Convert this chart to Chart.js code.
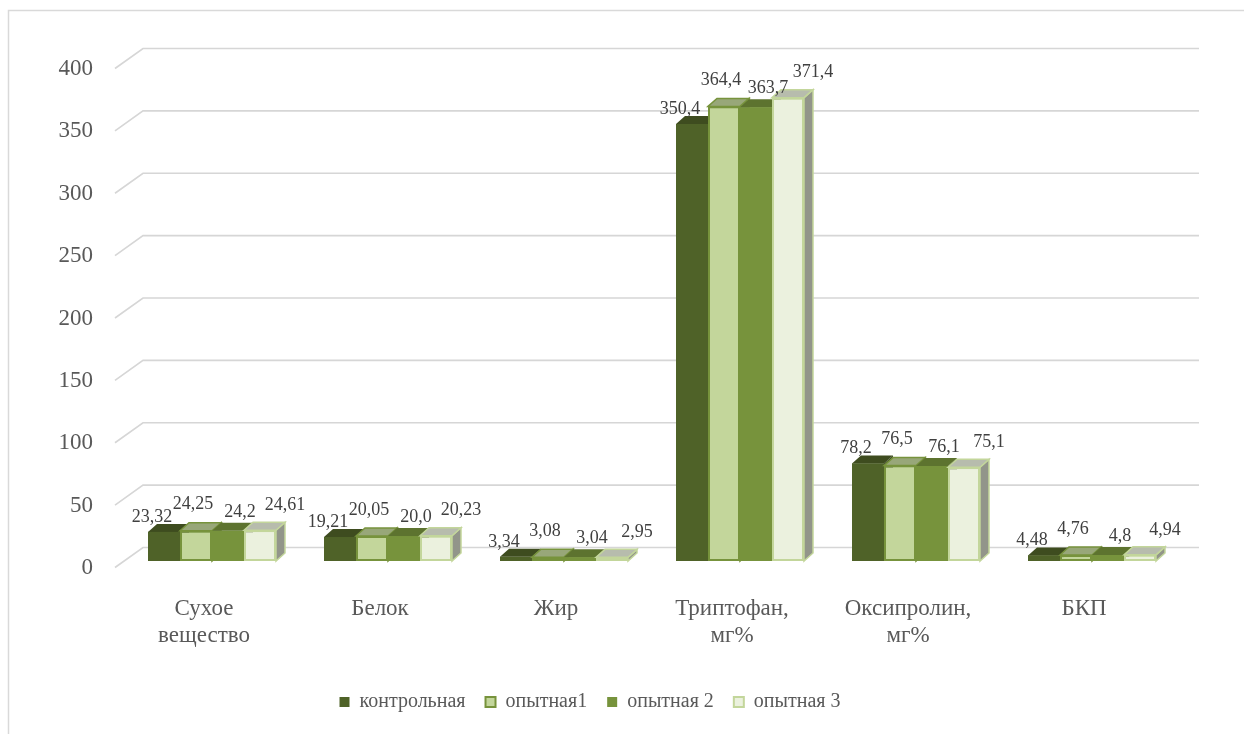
<!DOCTYPE html>
<html><head><meta charset="utf-8">
<script src="https://cdn.jsdelivr.net/npm/chart.js@4.4.1/dist/chart.umd.min.js"></script>
<style>html,body{margin:0;padding:0;background:#fff;overflow:hidden}</style>
</head><body>
<canvas id="c" width="1244" height="734"></canvas>
<script>
const categories = [['Сухое', 'вещество'], 'Белок', 'Жир', ['Триптофан,', 'мг%'], ['Оксипролин,', 'мг%'], 'БКП'];
const seriesNames = ['контрольная', 'опытная1', 'опытная 2', 'опытная 3'];
const kontrol = ['23,32', '19,21', '3,34', '350,4', '78,2', '4,48'];
const opyt1 = ['24,25', '20,05', '3,08', '364,4', '76,5', '4,76'];
const opyt2 = ['24,2', '20,0', '3,04', '363,7', '76,1', '4,8'];
const opyt3 = ['24,61', '20,23', '2,95', '371,4', '75,1', '4,94'];
const yMin = 0, yMax = 400, yStep = 50;

const seriesText = [kontrol, opyt1, opyt2, opyt3];
const toNum = s => parseFloat(s.replace(',', '.'));

const FONT = "'Liberation Serif', 'Times New Roman', serif";
const fills = ['#4F6228', '#C3D69B', '#77933C', '#EBF1DE'];
const borders = ['#4F6228', '#77933C', '#77933C', '#C3D69B'];
const borderW = [0, 2, 0, 2];
const labelOffsets = [[-12, -15], [-3, -26], [12, -19], [25, -25]];
const DEPTH = { dx: 9, dy: -8 };
const GRID = { frontDx: -9, frontDy: 6.5, backDx: 19, backDy: -13.5 };

function shade(hex, f) {
  const n = parseInt(hex.slice(1), 16);
  const r = Math.round(((n >> 16) & 255) * f), g = Math.round(((n >> 8) & 255) * f), b = Math.round((n & 255) * f);
  return `rgb(${r},${g},${b})`;
}

const plugin3d = {
  id: 'bars3d',
  beforeDraw(chart) {
    const ctx = chart.ctx;
    ctx.save();
    ctx.strokeStyle = '#d9d9d9';
    ctx.lineWidth = 1.5;
    ctx.beginPath();
    ctx.moveTo(8.5, 734); ctx.lineTo(8.5, 10.5); ctx.lineTo(1244, 10.5);
    ctx.stroke();
    ctx.restore();
  },
  beforeDatasetsDraw(chart) {
    const ctx = chart.ctx, area = chart.chartArea, ys = chart.scales.y;
    ctx.save();
    ctx.strokeStyle = '#d6d6d6';
    ctx.lineWidth = 1.6;
    ys.ticks.forEach(t => {
      const y = ys.getPixelForValue(t.value);
      ctx.beginPath();
      ctx.moveTo(area.left + GRID.frontDx, y + GRID.frontDy);
      ctx.lineTo(area.left + GRID.backDx, y + GRID.backDy);
      ctx.lineTo(area.right + GRID.backDx, y + GRID.backDy);
      ctx.stroke();
    });
    ctx.restore();
  },
  afterDatasetsDraw(chart) {
    const ctx = chart.ctx;
    // repaint bars left-to-right with 3D top and side faces (painter's order)
    chart.data.datasets.forEach((ds, i) => {
      const meta = chart.getDatasetMeta(i);
      const base = fills[i];
      meta.data.forEach(el => {
        const p = el.getProps(['x', 'y', 'base', 'width'], true);
        const l = p.x - p.width / 2, r = p.x + p.width / 2, top = p.y, bot = p.base;
        ctx.save();
        ctx.beginPath();
        ctx.moveTo(r, top); ctx.lineTo(r + DEPTH.dx, top + DEPTH.dy);
        ctx.lineTo(r + DEPTH.dx, bot + DEPTH.dy); ctx.lineTo(r, bot); ctx.closePath();
        ctx.fillStyle = shade(base, 0.62); ctx.fill();
        if (borderW[i]) { ctx.strokeStyle = borders[i]; ctx.lineWidth = 1.5; ctx.stroke(); }
        ctx.beginPath();
        ctx.moveTo(l, top); ctx.lineTo(l + DEPTH.dx, top + DEPTH.dy);
        ctx.lineTo(r + DEPTH.dx, top + DEPTH.dy); ctx.lineTo(r, top); ctx.closePath();
        ctx.fillStyle = shade(base, 0.78); ctx.fill();
        if (borderW[i]) { ctx.strokeStyle = borders[i]; ctx.lineWidth = 1.5; ctx.stroke(); }
        ctx.restore();
        el.draw(ctx);
      });
    });
    ctx.save();
    ctx.font = `18px ${FONT}`;
    ctx.fillStyle = '#404040';
    ctx.textAlign = 'center';
    ctx.textBaseline = 'middle';
    chart.data.datasets.forEach((ds, i) => {
      const meta = chart.getDatasetMeta(i);
      meta.data.forEach((el, j) => {
        const p = el.getProps(['x', 'y'], true);
        ctx.fillText(seriesText[i][j], p.x + labelOffsets[i][0], p.y + labelOffsets[i][1]);
      });
    });
    ctx.restore();
  }
};

new Chart(document.getElementById('c'), {
  type: 'bar',
  data: {
    labels: categories,
    datasets: seriesText.map((arr, i) => ({
      label: seriesNames[i],
      data: arr.map(toNum),
      backgroundColor: fills[i],
      borderColor: borders[i],
      borderWidth: borderW[i],
      borderSkipped: false,
      barPercentage: 1,
      categoryPercentage: 128 / 176
    }))
  },
  options: {
    responsive: false,
    animation: false,
    devicePixelRatio: 1,
    layout: { padding: { left: 0, right: 64, top: 62, bottom: 12 } },
    plugins: {
      tooltip: { enabled: false },
      legend: {
        position: 'bottom',
        labels: {
          boxWidth: 10, boxHeight: 10, padding: 20, color: '#595959',
          font: { family: FONT, size: 20 }
        }
      }
    },
    scales: {
      x: {
        grid: { display: false, drawTicks: false },
        border: { display: false },
        ticks: { color: '#595959', font: { family: FONT, size: 23, lineHeight: 1.2 }, padding: 34, labelOffset: -8, maxRotation: 0, autoSkip: false },
        afterFit: s => { s.height = 111; }
      },
      y: {
        min: yMin, max: yMax,
        grid: { display: false, drawTicks: false },
        border: { display: false },
        ticks: { stepSize: yStep, color: '#595959', font: { family: FONT, size: 23 }, padding: 31, labelOffset: 7 },
        afterFit: s => { s.width = 124; }
      }
    }
  },
  plugins: [plugin3d]
});
</script>
</body></html>
